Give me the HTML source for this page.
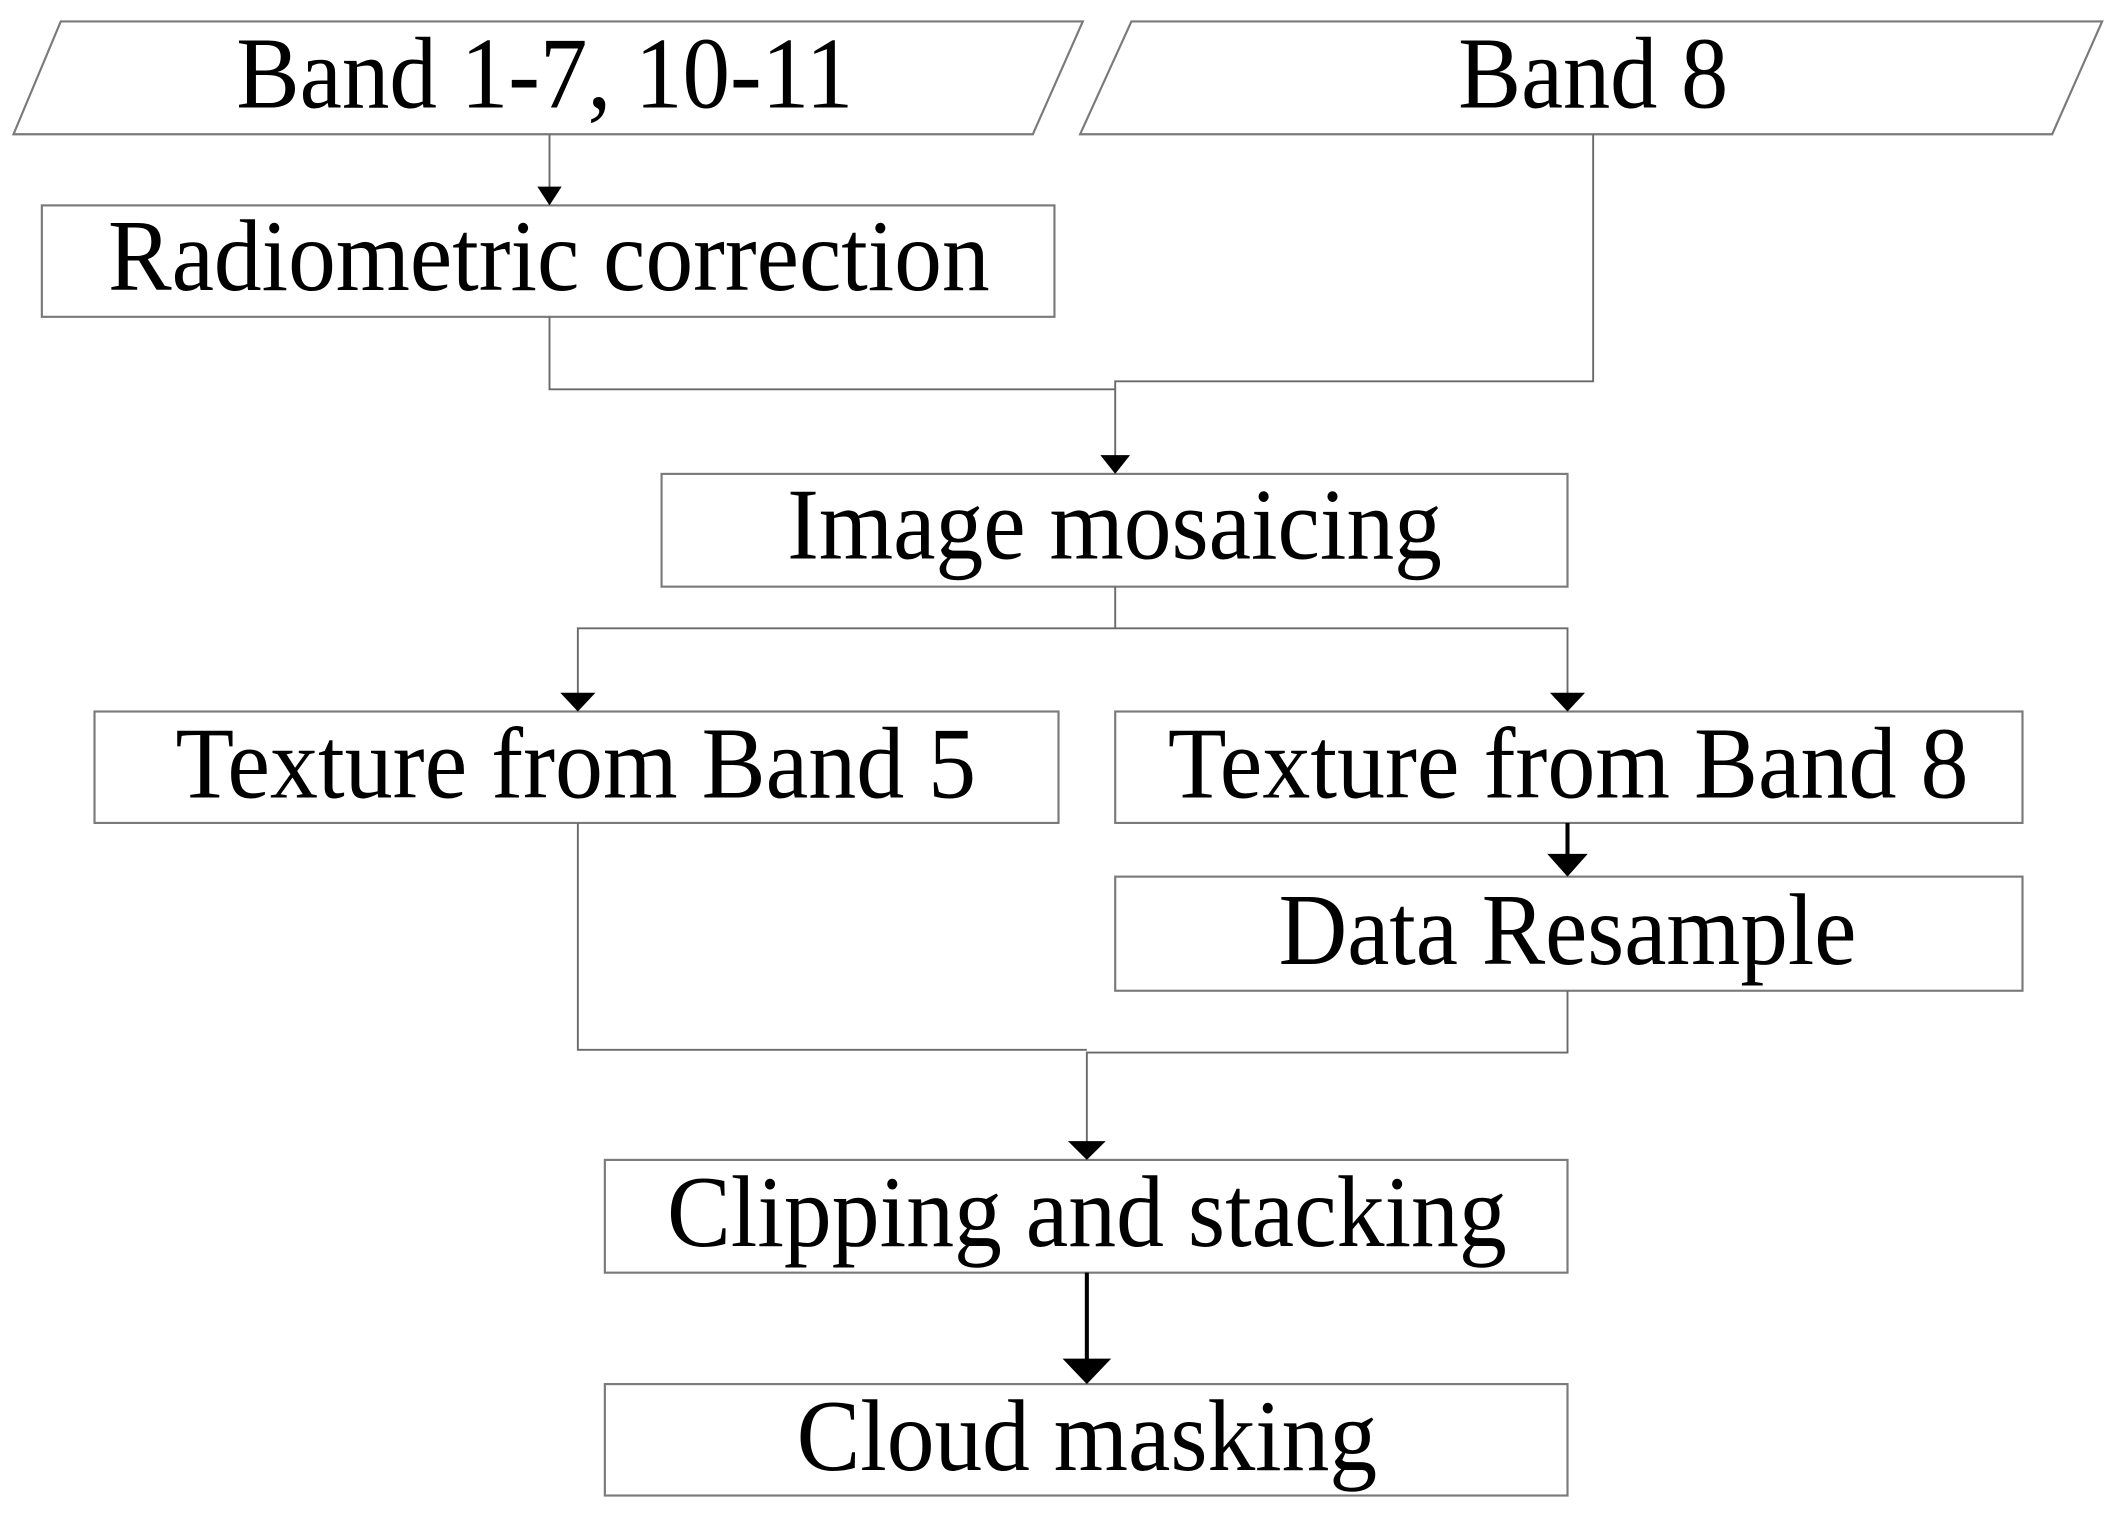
<!DOCTYPE html>
<html><head><meta charset="utf-8"><style>
html,body{margin:0;padding:0;background:#fff;width:2117px;height:1517px;overflow:hidden}
svg{display:block}
text{font-family:"Liberation Serif",serif;fill:#000}
</style></head><body>
<svg width="2117" height="1517" viewBox="0 0 1568 1130" preserveAspectRatio="none" xmlns="http://www.w3.org/2000/svg">
<defs>
<filter id="sh" x="-5%" y="-20%" width="115%" height="160%"><feGaussianBlur stdDeviation="4"/></filter>
</defs>
<g fill="none" stroke="#7a7a7a" stroke-width="1.6">
<polygon points="45,16 802,16 765,100 10,100" fill="#fff"/>
<polygon points="838,16 1557,16 1520,100 800,100" fill="#fff"/>
<rect x="31" y="153" width="750" height="83" fill="#fff"/>
<rect x="490" y="353" width="671" height="84" fill="#fff"/>
<rect x="70" y="530" width="714" height="83" fill="#fff"/>
<rect x="826" y="530" width="672" height="83" fill="#fff"/>
<rect x="826" y="653" width="672" height="85" fill="#fff"/>
<rect x="448" y="864" width="713" height="84" fill="#fff"/>
<rect x="448" y="1031" width="713" height="83" fill="#fff"/>
</g>
<g fill="none" stroke="#6a6a6a" stroke-width="1.4">
<line x1="407" y1="100" x2="407" y2="140"/>
<polyline points="407,236 407,290 826,290"/>
<polyline points="1180,100 1180,284 826,284 826,340"/>
<line x1="826" y1="437" x2="826" y2="468"/>
<polyline points="428,517 428,468 1161,468 1161,517"/>
<polyline points="428,613 428,782 805,782"/>
<polyline points="1161,738 1161,784 805,784 805,851"/>
</g>
<g stroke="#000" stroke-width="3">
<line x1="1161" y1="613" x2="1161" y2="638"/>
<line x1="805" y1="948" x2="805" y2="1014"/>
</g>
<g fill="#000">
<polygon points="398,139 416,139 407,153"/>
<polygon points="815,339 837,339 826,353"/>
<polygon points="415,516 441,516 428,530"/>
<polygon points="1148,516 1174,516 1161,530"/>
<polygon points="1146,636 1176,636 1161,653"/>
<polygon points="791,850 819,850 805,864"/>
<polygon points="787,1012 823,1012 805,1031"/>
</g>
<g font-size="76">
<text x="175" y="80" textLength="457" lengthAdjust="spacingAndGlyphs">Band 1-7, 10-11</text>
<text x="1080" y="80" textLength="200" lengthAdjust="spacingAndGlyphs">Band 8</text>
<text x="80" y="216" textLength="653" lengthAdjust="spacingAndGlyphs">Radiometric correction</text>
<text x="583" y="416" textLength="485" lengthAdjust="spacingAndGlyphs">Image mosaicing</text>
<text x="130" y="594" textLength="593" lengthAdjust="spacingAndGlyphs">Texture from Band 5</text>
<text x="865" y="594" textLength="593" lengthAdjust="spacingAndGlyphs">Texture from Band 8</text>
<text x="947" y="718" textLength="428" lengthAdjust="spacingAndGlyphs">Data Resample</text>
<text x="494" y="928" textLength="622" lengthAdjust="spacingAndGlyphs">Clipping and stacking</text>
<text x="590" y="1095" textLength="430" lengthAdjust="spacingAndGlyphs">Cloud masking</text>
</g>
</svg>
</body></html>
